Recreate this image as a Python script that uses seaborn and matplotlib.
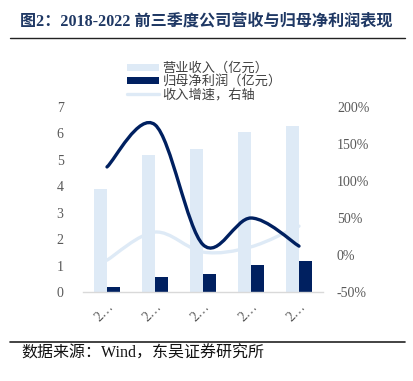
import numpy as np
import pandas as pd
import matplotlib
matplotlib.use("Agg")
import matplotlib.pyplot as plt
import seaborn as sns
from matplotlib.path import Path
from matplotlib.patches import PathPatch, Patch
from matplotlib.lines import Line2D
from matplotlib.ticker import FuncFormatter

# ---- data ----
years = ["2018", "2019", "2020", "2021", "2022"]
tick_labels = ["2…", "2…", "2…", "2…", "2…"]
revenue = [3.9, 5.2, 5.4, 6.05, 6.3]          # 营业收入（亿元）
net_profit = [0.2, 0.57, 0.68, 1.02, 1.17]    # 归母净利润（亿元）
revenue_growth = [-0.07, 0.31, 0.04, 0.11, 0.39]   # 收入增速，右轴
profit_growth = [1.19, 1.76, 0.14, 0.50, 0.12]     # 归母净利润增速，右轴

title_text = "图2：2018-2022 前三季度公司营收与归母净利润表现"
source_text = "数据来源：Wind，东吴证券研究所"
leg_rev = "营业收入（亿元）"
leg_np = "归母净利润（亿元）"
leg_g = "收入增速，右轴"

LIGHT = "#DEEAF6"
DARK = "#002060"
GRAY = "#595959"

sns.set_theme(style="white")
plt.rcParams["font.family"] = ["Liberation Serif", "Noto Sans CJK SC"]

W, H = 413, 381
fig = plt.figure(figsize=(W / 100, H / 100), dpi=100)

ax = fig.add_axes([83 / W, 1 - 292 / H, 240 / W, 185 / H])

df = pd.DataFrame({
    "year": years * 2,
    "value": revenue + net_profit,
    "kind": [leg_rev] * 5 + [leg_np] * 5,
})
sns.barplot(data=df, x="year", y="value", hue="kind", order=years,
            hue_order=[leg_rev, leg_np], palette=[LIGHT, DARK],
            width=0.56, gap=0, dodge=True, ax=ax, legend=False,
            saturation=1, edgecolor="none", linewidth=0)

ax.set_xlim(-0.5, 4.5)
ax.set_ylim(0, 7)
ax.set_yticks(range(0, 8))
ax.set_xlabel("")
ax.set_ylabel("")
ax.set_xticks(range(5))
ax.set_xticklabels(tick_labels, rotation=45, ha="right", va="top",
                   rotation_mode="anchor", color=GRAY, fontsize=10,
                   family=["Liberation Serif"])
ax.tick_params(axis="y", length=0, pad=14, labelsize=10, labelcolor=GRAY)
ax.tick_params(axis="x", length=0, pad=6)
for s in ["left", "right", "top"]:
    ax.spines[s].set_visible(False)
ax.spines["bottom"].set_color("#D9D9D9")
ax.spines["bottom"].set_linewidth(1.0)
ax.grid(False)
ax.set_facecolor("none")

ax2 = ax.twinx()
ax2.set_ylim(-0.5, 2.0)
ax2.set_yticks([-0.5, 0, 0.5, 1.0, 1.5, 2.0])
ax2.yaxis.set_major_formatter(FuncFormatter(lambda v, p: f"{v*100:.0f}%"))
ax2.tick_params(axis="y", length=0, pad=10, labelsize=10, labelcolor=GRAY)
for s in ["left", "right", "top", "bottom"]:
    ax2.spines[s].set_visible(False)
ax2.grid(False)


def smooth_path(xs, ys):
    pts = np.column_stack([xs, ys]).astype(float)
    n = len(pts)
    verts = [pts[0]]
    codes = [Path.MOVETO]
    for i in range(n - 1):
        p0 = pts[i - 1] if i > 0 else pts[i]
        p1 = pts[i]
        p2 = pts[i + 1]
        p3 = pts[i + 2] if i + 2 < n else pts[i + 1]
        c1 = p1 + (p2 - p0) / 6.0
        c2 = p2 - (p3 - p1) / 6.0
        verts += [c1, c2, p2]
        codes += [Path.CURVE4] * 3
    return Path(verts, codes)


xs = np.arange(len(years))
ax2.add_patch(PathPatch(smooth_path(xs, revenue_growth), fill=False,
                        edgecolor=LIGHT, lw=2.4, capstyle="round", zorder=3))
ax2.add_patch(PathPatch(smooth_path(xs, profit_growth), fill=False,
                        edgecolor=DARK, lw=2.4, capstyle="round", zorder=4))

handles = [
    Patch(facecolor=LIGHT, edgecolor="none"),
    Patch(facecolor=DARK, edgecolor="none"),
    Line2D([], [], color=LIGHT, lw=2.4),
]
leg = fig.legend(handles, [leg_rev, leg_np, leg_g], loc="upper left",
                 bbox_to_anchor=(127 / W, 1 - 62 / H), frameon=False,
                 prop={"family": ["Noto Sans CJK SC"], "size": 9.5},
                 handlelength=2.4, handleheight=0.45, labelspacing=0.0,
                 handletextpad=0.3, borderpad=0, borderaxespad=0)
for t in leg.get_texts():
    t.set_color("#404040")

fig.text(20 / W, 1 - 22 / H, title_text, fontsize=11.6, fontweight="bold",
         color="#1F3864", ha="left", va="center",
         family=["Liberation Serif", "Noto Sans CJK SC"])
fig.add_artist(Line2D([10 / W, 405 / W], [1 - 38 / H, 1 - 38 / H],
                      color="#222222", lw=1.0, transform=fig.transFigure))
fig.add_artist(Line2D([10 / W, 405 / W], [1 - 342 / H, 1 - 342 / H],
                      color="#222222", lw=1.2, transform=fig.transFigure))
fig.text(21 / W, 1 - 354 / H, source_text, fontsize=11.5, color="#111111",
         ha="left", va="center",
         family=["Liberation Serif", "Noto Sans CJK SC"])

fig.savefig("out.png", dpi=100)
